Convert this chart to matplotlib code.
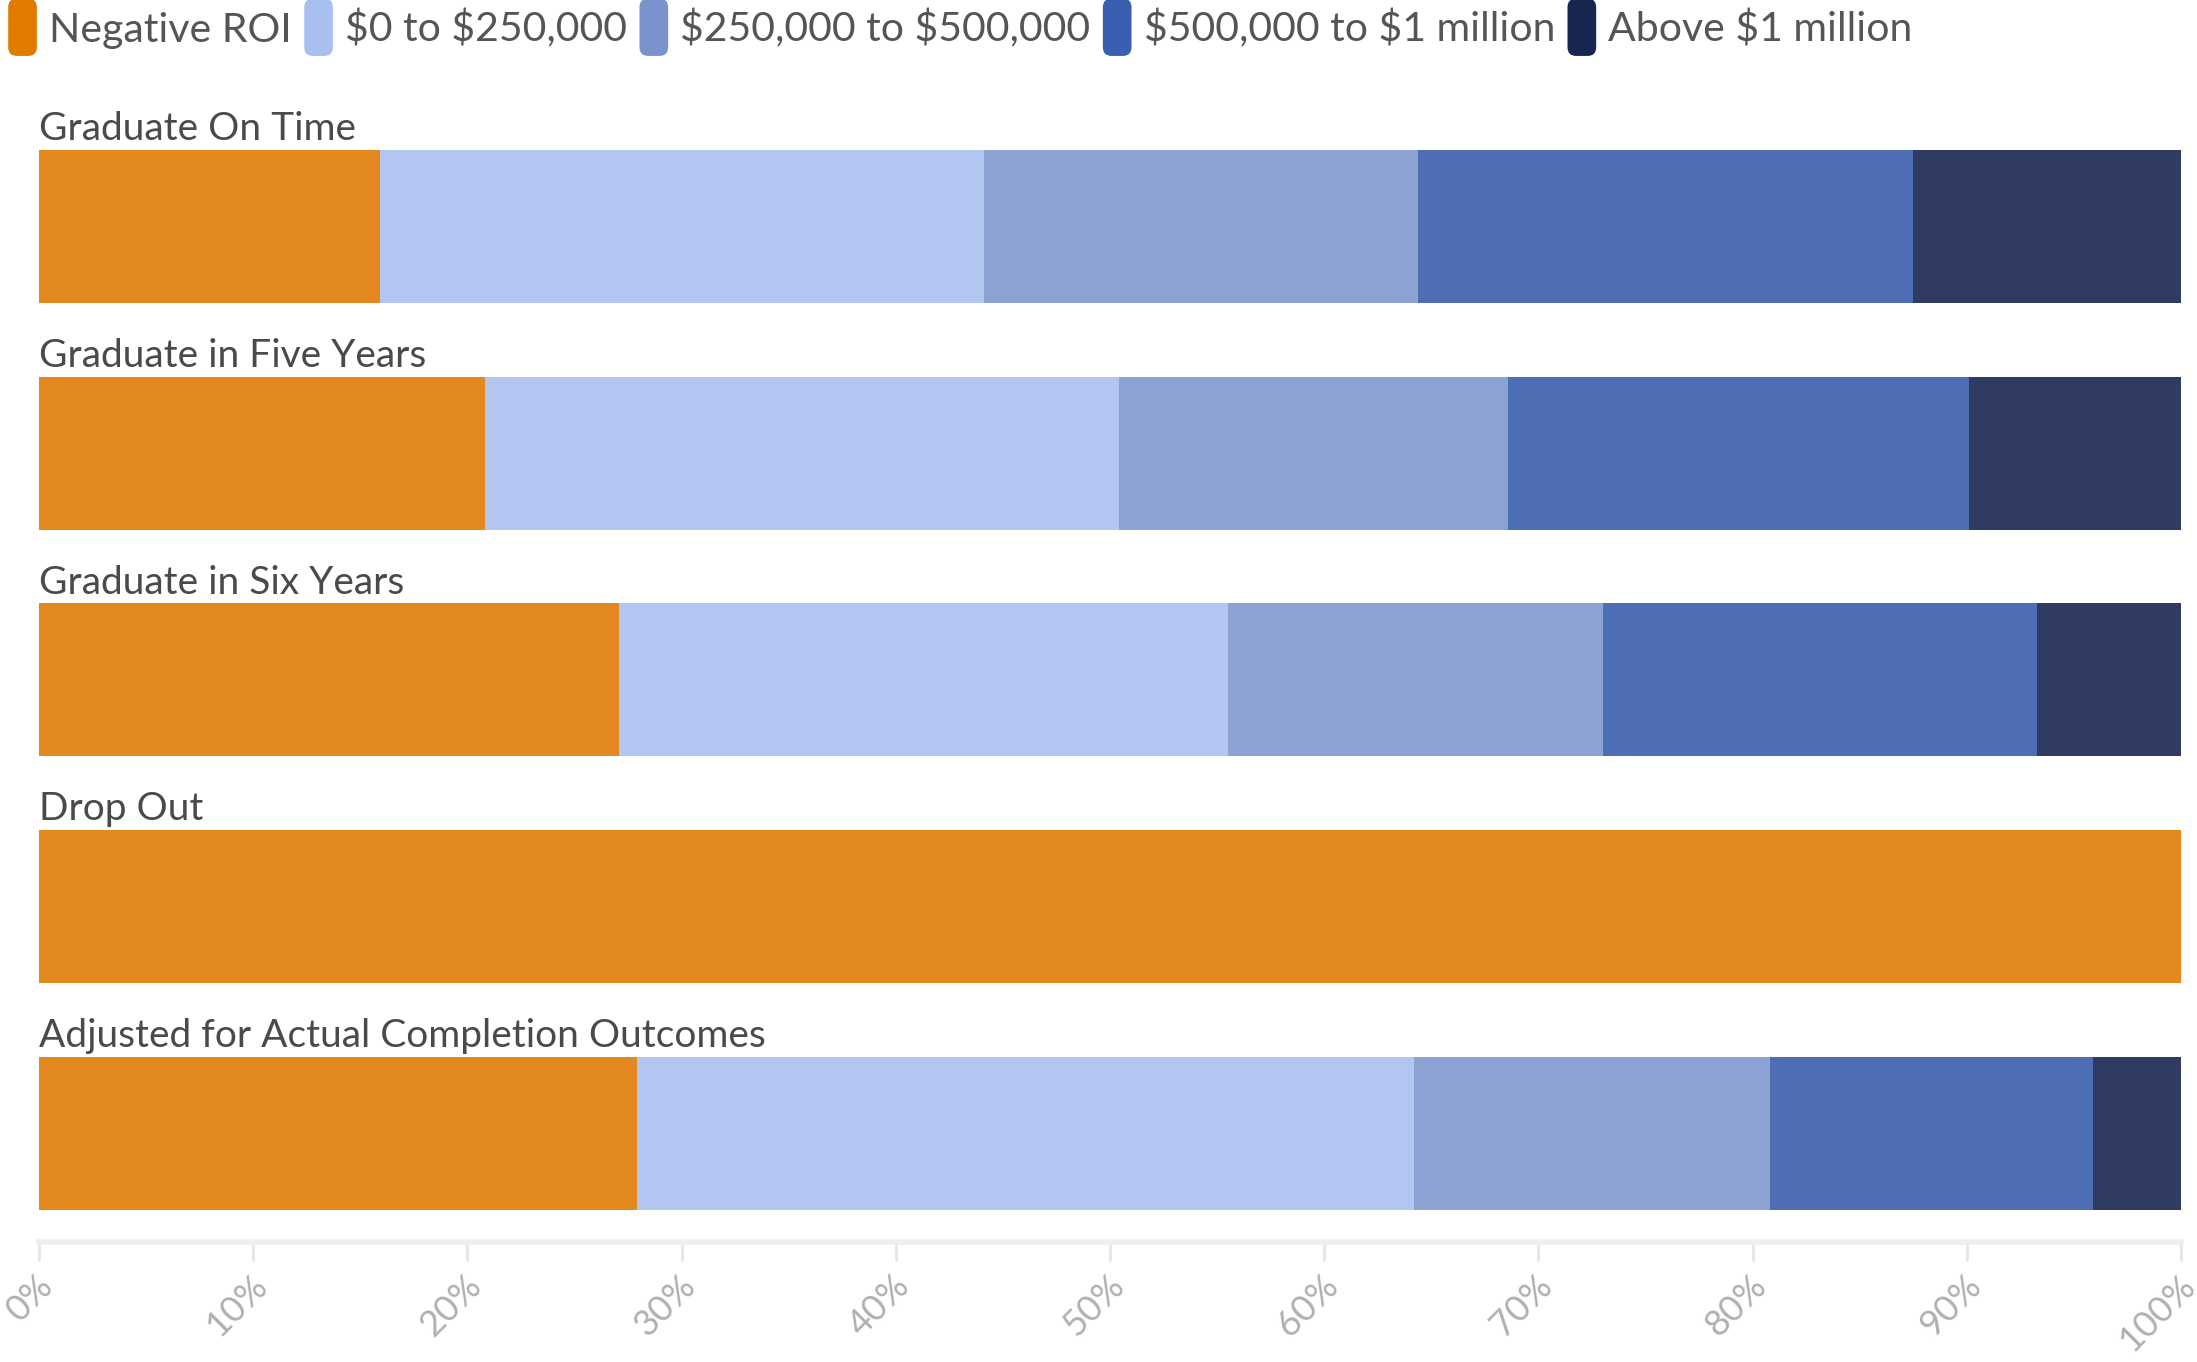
import matplotlib
matplotlib.use("Agg")
import matplotlib.pyplot as plt
import matplotlib.transforms as mtransforms
from matplotlib.patches import FancyBboxPatch
from matplotlib.legend_handler import HandlerPatch
from matplotlib.ticker import FuncFormatter

# ── Data (percent of students in each ROI bucket) ─────────
scenarios = ["Graduate On Time", "Graduate in Five Years", "Graduate in Six Years",
             "Drop Out", "Adjusted for Actual Completion Outcomes"]
buckets = ["Negative ROI", "$0 to $250,000", "$250,000 to $500,000",
           "$500,000 to $1 million", "Above $1 million"]

negative_roi = [15.9, 20.8, 27.1, 100.0, 27.9]
roi_0_250k   = [28.2, 29.6, 28.4, 0.0, 36.3]
roi_250_500k = [20.3, 18.2, 17.5, 0.0, 16.6]
roi_500k_1m  = [23.1, 21.5, 20.3, 0.0, 15.1]
roi_above_1m = [12.5, 9.9, 6.7, 0.0, 4.1]
series = [negative_roi, roi_0_250k, roi_250_500k, roi_500k_1m, roi_above_1m]

bar_colors    = ["#E3891F", "#B3C6F2", "#8BA2D3", "#4D6DB5", "#2F3B63"]
legend_colors = ["#E07B00", "#A8BFF0", "#7B93CC", "#3A5FB0", "#182550"]
xticks = list(range(0, 101, 10))

plt.rcParams['font.family'] = ['Lato', 'DejaVu Sans']
plt.rcParams['text.parse_math'] = False

# ── Figure ────────────────────────────────────────────────
fig = plt.figure(figsize=(21.97, 13.62), dpi=100)
ax = fig.add_axes([39 / 2197, 120 / 1362, 2142 / 2197, 1142 / 1362])

bar_h = 0.675
ypos = list(range(len(scenarios)))
left = [0.0] * len(scenarios)
for vals, col in zip(series, bar_colors):
    ax.barh(ypos, vals, left=left, height=bar_h, color=col, linewidth=0)
    left = [l + v for l, v in zip(left, vals)]

for i, name in enumerate(scenarios):
    ax.text(0, i - bar_h / 2 - 0.012, name, ha='left', va='bottom',
            fontsize=28, color='#4a4a4a')

ax.set_xlim(0, 100)
ax.set_ylim(4.48, -0.558)
ax.set_yticks([])
ax.set_xticks(xticks)
ax.xaxis.set_major_formatter(FuncFormatter(lambda v, _: f"{v:.0f}%"))
ax.tick_params(axis='x', length=14, width=2, color='#e6e6e6',
               labelcolor='#b0b0b0', labelsize=26, pad=5)
shift = mtransforms.ScaledTranslation(-3 / 100, 0, fig.dpi_scale_trans)
for lab in ax.get_xticklabels():
    lab.set_rotation(45)
    lab.set_ha('right')
    lab.set_va('top')
    lab.set_rotation_mode('anchor')
    lab.set_transform(lab.get_transform() + shift)

for side in ['top', 'right', 'left']:
    ax.spines[side].set_visible(False)
ax.spines['bottom'].set_color('#eeeeee')
ax.spines['bottom'].set_linewidth(4)


# ── Legend with rounded swatches ──────────────────────────
class RoundSwatch(HandlerPatch):
    def create_artists(self, legend, orig_handle, xdescent, ydescent,
                       width, height, fontsize, trans):
        w = width
        h = height * 2.0
        p = FancyBboxPatch((-xdescent, -ydescent - (h - height) / 2),
                           w, h, boxstyle=f"round,pad=0,rounding_size={w * 0.3}",
                           facecolor=orig_handle.get_facecolor(), edgecolor='none',
                           transform=trans)
        return [p]


handles = [plt.Rectangle((0, 0), 1, 1, facecolor=c) for c in legend_colors]
fig.legend(handles, buckets, loc='upper left', bbox_to_anchor=(0.0, 0.999),
           ncol=5, frameon=False, fontsize=29.5, labelcolor='#555555',
           handler_map={plt.Rectangle: RoundSwatch()},
           handlelength=0.7, handleheight=0.7, handletextpad=0.3,
           columnspacing=0.3, borderaxespad=0.1, borderpad=0.1)

fig.savefig("out.png", dpi=100)
